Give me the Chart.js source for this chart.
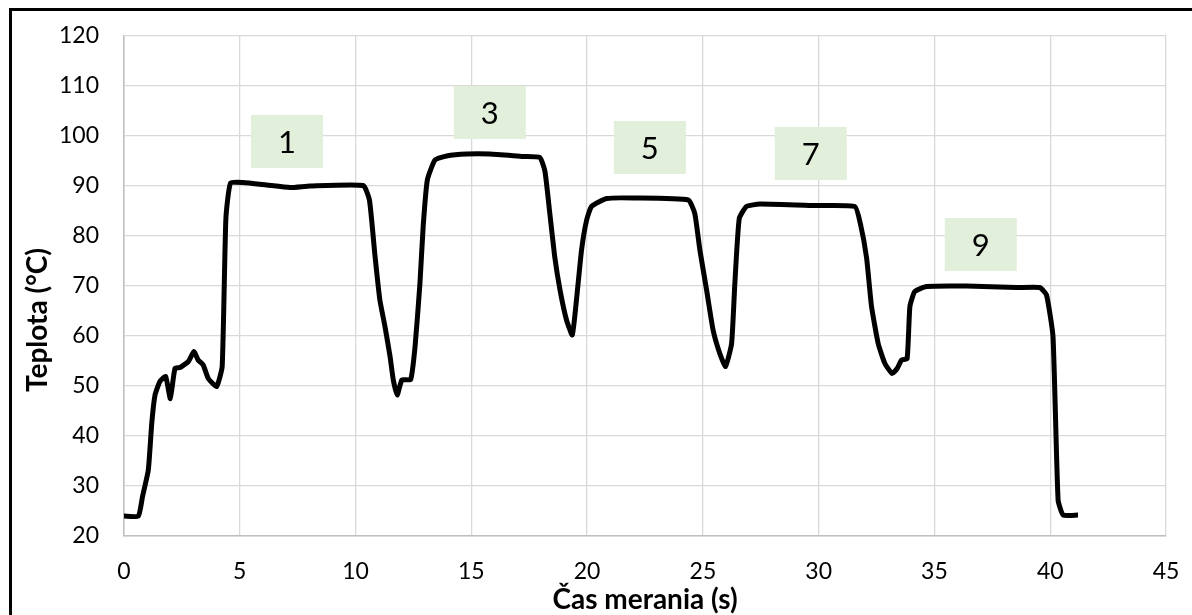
<!DOCTYPE html>
<html>
<head>
<meta charset="utf-8">
<script src="https://cdn.jsdelivr.net/npm/chart.js@4.4.1/dist/chart.umd.min.js"></script>
<style>
  html, body { margin: 0; padding: 0; background: #fff; }
  #wrap { position: relative; width: 1192px; height: 615px; overflow: hidden; }
  #frame { position: absolute; left: 9px; top: 8px; width: 1300px; height: 700px;
           border-left: 3px solid #000; border-top: 3px solid #000; box-sizing: border-box; }
  canvas { position: absolute; left: 0; top: 0; }
</style>
</head>
<body>
<div id="wrap">
  <div id="frame"></div>
  <canvas id="c" width="1192" height="615"></canvas>
</div>
<script>
// čas merania (s) a teplota (°C), odčítané z grafu
const timeS = [
  0, 0.62, 0.8, 1.05, 1.2, 1.34, 1.55, 1.8, 2.0, 2.2,
  2.42, 2.78, 3.02, 3.2, 3.42, 3.64, 4.0, 4.24, 4.4, 4.6,
  5.15, 6.16, 7.17, 8.03, 10.33, 10.6, 10.84, 11.05, 11.27, 11.49,
  11.63, 11.8, 12.0, 12.38, 12.57, 12.78, 12.92, 13.1, 13.43, 13.93,
  14.8, 15.8, 17.24, 17.96, 18.18, 18.39, 18.6, 18.83, 19.11, 19.36,
  19.54, 19.76, 19.98, 20.19, 20.84, 22.0, 24.37, 24.65, 24.87, 25.16,
  25.44, 25.73, 25.98, 26.24, 26.38, 26.57, 26.88, 27.46, 29.9, 31.56,
  31.8, 32.07, 32.28, 32.57, 32.86, 33.17, 33.39, 33.58, 33.82, 33.94,
  34.15, 34.66, 36.38, 38.54, 39.55, 39.84, 40.12, 40.34, 40.56, 41.2
];
const tempC = [
  24, 24, 27.9, 33.2, 42.6, 48.2, 50.9, 51.9, 47.5, 53.5,
  53.7, 54.9, 56.9, 55.2, 54.2, 51.5, 49.9, 53.9, 83.5, 90.6,
  90.7, 90.2, 89.7, 90.0, 90.1, 87.2, 76.0, 67.2, 61.9, 55.9,
  51.2, 48.2, 51.2, 51.3, 57.9, 70.5, 81.9, 91.2, 95.2, 96.0,
  96.4, 96.4, 95.9, 95.7, 92.9, 84.5, 75.9, 69.2, 63.2, 60.2,
  67.2, 77.2, 83.2, 85.9, 87.5, 87.6, 87.2, 84.5, 77.2, 69.2,
  61.2, 56.5, 53.9, 58.5, 70.5, 83.5, 85.9, 86.4, 86.1, 85.9,
  82.5, 75.6, 66.0, 58.5, 54.5, 52.5, 53.5, 55.2, 55.5, 65.9,
  68.9, 69.9, 70.0, 69.7, 69.7, 68.2, 59.9, 27.2, 24.2, 24.2
];

// popisky cyklov (stred v súradniciach grafu)
const noteText = ["1", "3", "5", "7", "9"];
const noteX = [7.04, 15.8, 22.71, 29.66, 37.0];
const noteY = [98.9, 104.7, 97.7, 96.5, 78.3];

const xMin = 0, xMax = 45, xStep = 5;
const yMin = 20, yMax = 120, yStep = 10;

const FONT = "Lato, 'Open Sans', sans-serif";

const points = timeS.map((t, i) => ({ x: t, y: tempC[i] }));

const notesPlugin = {
  id: "notes",
  afterDatasetsDraw(chart) {
    const { ctx, scales } = chart;
    ctx.save();
    noteText.forEach((txt, i) => {
      const cx = scales.x.getPixelForValue(noteX[i]);
      const cy = scales.y.getPixelForValue(noteY[i]);
      ctx.fillStyle = "#e2efda";
      ctx.fillRect(cx - 36, cy - 26.5, 72, 53);
      ctx.fillStyle = "#000";
      ctx.font = "31px " + FONT;
      ctx.textAlign = "center";
      ctx.textBaseline = "middle";
      ctx.fillText(txt, cx, cy + 1);
    });
    ctx.restore();
  },
  afterDraw(chart) {
    const { ctx, chartArea } = chart;
    ctx.save();
    ctx.fillStyle = "#000";
    ctx.font = "bold 28px " + FONT;
    ctx.textAlign = "center";
    ctx.textBaseline = "middle";
    ctx.fillText("Čas merania (s)", (chartArea.left + chartArea.right) / 2, 600);
    ctx.translate(38, 320);
    ctx.rotate(-Math.PI / 2);
    ctx.fillText("Teplota (°C)", 0, 0);
    ctx.restore();
  },
};

new Chart(document.getElementById("c"), {
  type: "scatter",
  data: {
    datasets: [{
      data: points,
      showLine: true,
      borderColor: "#000",
      borderWidth: 5,
      pointRadius: 0,
      tension: 0.15,
      borderJoinStyle: "round",
      borderCapStyle: "butt",
    }],
  },
  options: {
    responsive: false,
    animation: false,
    layout: { padding: { left: 0, top: 36, right: 26, bottom: 0 } },
    plugins: { legend: { display: false }, tooltip: { enabled: false } },
    scales: {
      x: {
        type: "linear", min: xMin, max: xMax,
        ticks: { stepSize: xStep, color: "#000", padding: 22, font: { family: FONT, size: 23 } },
        grid: { color: "#d9d9d9", lineWidth: 1.3, drawTicks: false },
        border: { color: "#bfbfbf", width: 1.5 },
        afterFit: (s) => { s.height = 79; s.paddingLeft = 0; s.paddingRight = 0; },
      },
      y: {
        type: "linear", min: yMin, max: yMax,
        ticks: { stepSize: yStep, color: "#000", padding: 25, font: { family: FONT, size: 23 } },
        grid: { color: "#d9d9d9", lineWidth: 1.3, drawTicks: false },
        border: { color: "#bfbfbf", width: 1.5 },
        afterFit: (s) => { s.width = 124; s.paddingTop = 0; s.paddingBottom = 0; },
      },
    },
  },
  plugins: [notesPlugin],
});
</script>
</body>
</html>
